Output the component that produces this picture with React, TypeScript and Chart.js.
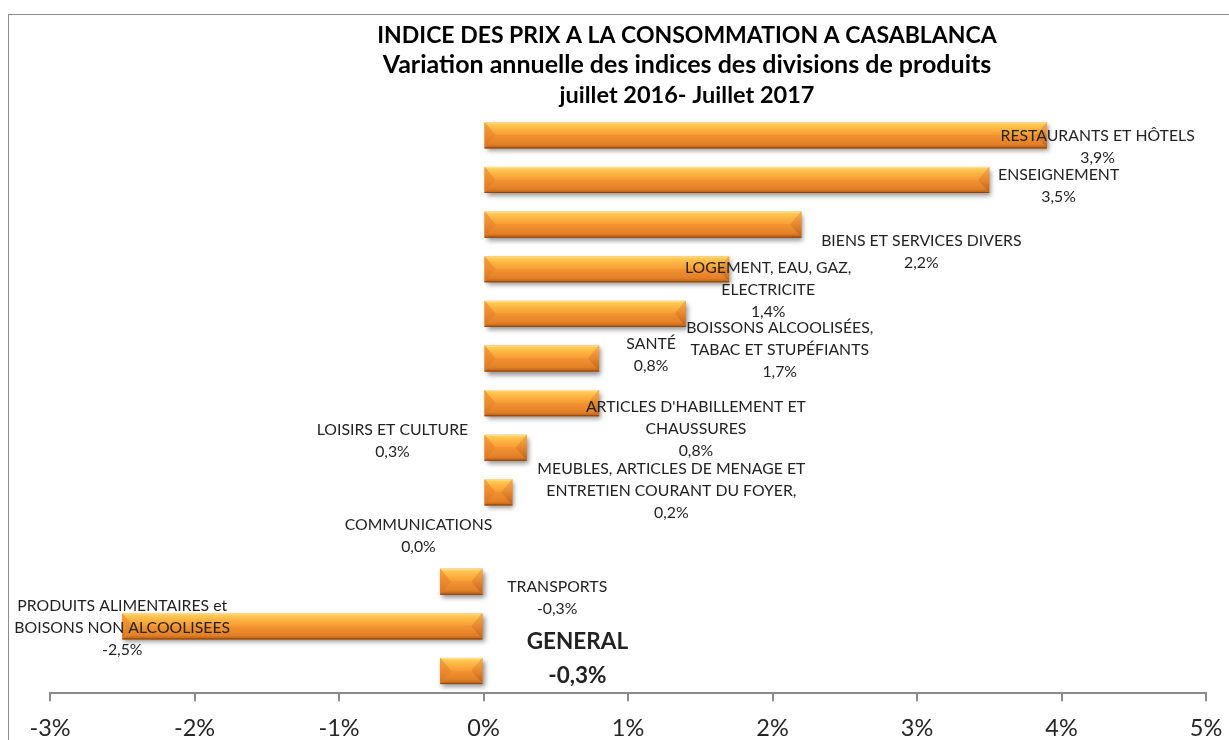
import React, { useEffect, useRef } from "react";
import { Chart, registerables } from "chart.js";

Chart.register(...registerables);

// ---------- data ----------
const CATEGORIES = [
  "RESTAURANTS ET HÔTELS",
  "ENSEIGNEMENT",
  "BIENS ET SERVICES DIVERS",
  "BOISSONS ALCOOLISÉES, TABAC ET STUPÉFIANTS",
  "LOGEMENT, EAU, GAZ, ELECTRICITE",
  "SANTÉ",
  "ARTICLES D'HABILLEMENT ET CHAUSSURES",
  "LOISIRS ET CULTURE",
  "MEUBLES, ARTICLES DE MENAGE ET ENTRETIEN COURANT DU FOYER,",
  "COMMUNICATIONS",
  "TRANSPORTS",
  "PRODUITS ALIMENTAIRES et BOISONS NON ALCOOLISEES",
  "GENERAL",
];

const VALUES = [3.9, 3.5, 2.2, 1.7, 1.4, 0.8, 0.8, 0.3, 0.2, 0.0, -0.3, -2.5, -0.3];

const LABEL_LINES = [
  ["RESTAURANTS ET HÔTELS"],
  ["ENSEIGNEMENT"],
  ["BIENS ET SERVICES DIVERS"],
  ["BOISSONS ALCOOLISÉES,", "TABAC ET STUPÉFIANTS"],
  ["LOGEMENT, EAU, GAZ,", "ELECTRICITE"],
  ["SANTÉ"],
  ["ARTICLES D'HABILLEMENT ET", "CHAUSSURES"],
  ["LOISIRS ET CULTURE"],
  ["MEUBLES, ARTICLES DE MENAGE ET", "ENTRETIEN COURANT DU FOYER,"],
  ["COMMUNICATIONS"],
  ["TRANSPORTS"],
  ["PRODUITS ALIMENTAIRES et", "BOISONS NON ALCOOLISEES"],
  ["GENERAL"],
];

// label anchors in axis units (x: %, y: category index)
const LABEL_X = [4.25, 3.98, 3.03, 2.05, 1.97, 1.16, 1.47, -0.63, 1.3, -0.45, 0.51, -2.5, 0.65];
const LABEL_Y = [0.02, 0.89, 2.37, 4.32, 2.975, 4.68, 6.09, 6.61, 7.48, 8.72, 10.11, 10.55, 11.34];

const X_TICKS = [-3, -2, -1, 0, 1, 2, 3, 4, 5];

const TITLE_LINES = [
  "INDICE DES PRIX A LA CONSOMMATION A CASABLANCA",
  "Variation annuelle des indices des divisions de produits",
  "juillet 2016- Juillet 2017",
];

// ---------- styling ----------
const FONT = "Lato, 'Open Sans', sans-serif";
const fmt = (v: number) => v.toFixed(1).replace(".", ",") + "%";

const bevelPlugin = {
  id: "bevelBars",
  afterDatasetsDraw(chart: any) {
    const ctx = chart.ctx as CanvasRenderingContext2D;
    const meta = chart.getDatasetMeta(0);
    meta.data.forEach((el: any) => {
      const { x, y, base, height } = el.getProps(["x", "y", "base", "height"], true);
      const xa = Math.min(x, base);
      const xb = Math.max(x, base);
      const w = xb - xa;
      if (w < 0.5) return;
      const y0 = y - height / 2;
      const y1 = y + height / 2;
      const ym = y;
      const b = Math.min(11, w / 2);

      ctx.save();
      ctx.shadowColor = "rgba(0,0,0,0.45)";
      ctx.shadowBlur = 5;
      ctx.shadowOffsetX = 2;
      ctx.shadowOffsetY = 3;
      ctx.fillStyle = "#E88A2C";
      ctx.fillRect(xa, y0, w, height);
      ctx.restore();

      ctx.save();
      // top half
      let g = ctx.createLinearGradient(0, y0, 0, ym);
      g.addColorStop(0, "#FFE8A0");
      g.addColorStop(0.15, "#FFCB55");
      g.addColorStop(0.5, "#FDB443");
      g.addColorStop(1, "#F79A33");
      ctx.fillStyle = g;
      ctx.beginPath();
      ctx.moveTo(xa, y0);
      ctx.lineTo(xb, y0);
      ctx.lineTo(xb - b, ym);
      ctx.lineTo(xa + b, ym);
      ctx.closePath();
      ctx.fill();
      // bottom half
      g = ctx.createLinearGradient(0, ym, 0, y1);
      g.addColorStop(0, "#F39332");
      g.addColorStop(0.7, "#E27F26");
      g.addColorStop(1, "#B05A18");
      ctx.fillStyle = g;
      ctx.beginPath();
      ctx.moveTo(xa + b, ym);
      ctx.lineTo(xb - b, ym);
      ctx.lineTo(xb, y1);
      ctx.lineTo(xa, y1);
      ctx.closePath();
      ctx.fill();
      // left facet
      g = ctx.createLinearGradient(0, y0, 0, y1);
      g.addColorStop(0, "#F7A23C");
      g.addColorStop(0.5, "#EC8A2E");
      g.addColorStop(1, "#D27422");
      ctx.fillStyle = g;
      ctx.beginPath();
      ctx.moveTo(xa, y0);
      ctx.lineTo(xa + b, ym);
      ctx.lineTo(xa, y1);
      ctx.closePath();
      ctx.fill();
      // right facet
      g = ctx.createLinearGradient(0, y0, 0, y1);
      g.addColorStop(0, "#F8B050");
      g.addColorStop(0.5, "#E6862E");
      g.addColorStop(1, "#B8611C");
      ctx.fillStyle = g;
      ctx.beginPath();
      ctx.moveTo(xb, y0);
      ctx.lineTo(xb - b, ym);
      ctx.lineTo(xb, y1);
      ctx.closePath();
      ctx.fill();
      // bottom edge
      ctx.strokeStyle = "rgba(130,65,15,0.8)";
      ctx.lineWidth = 1;
      ctx.beginPath();
      ctx.moveTo(xa, y1 - 0.5);
      ctx.lineTo(xb, y1 - 0.5);
      ctx.stroke();
      ctx.restore();
    });
  },
};

const labelsPlugin = {
  id: "valueLabels",
  afterDatasetsDraw(chart: any) {
    const ctx = chart.ctx as CanvasRenderingContext2D;
    const xs = chart.scales.x;
    const ys = chart.scales.y;
    ctx.save();
    ctx.textAlign = "center";
    ctx.textBaseline = "middle";
    ctx.fillStyle = "#222222";
    LABEL_LINES.forEach((lines, i) => {
      const px = xs.getPixelForValue(LABEL_X[i]);
      const py = ys.getPixelForValue(LABEL_Y[i]);
      const isGeneral = i === LABEL_LINES.length - 1;
      const all = [...lines, fmt(VALUES[i])];
      ctx.font = isGeneral ? `bold 22.5px ${FONT}` : `15.8px ${FONT}`;
      const lh = isGeneral ? 34 : 22;
      all.forEach((t, k) => ctx.fillText(t, px, py + k * lh));
    });
    ctx.restore();
  },
};

const TITLE_SIZES = [23, 25, 23.5];
const TITLE_BASELINES = [43, 73, 103];

const framePlugin = {
  id: "frameTitle",
  afterDraw(chart: any) {
    const ctx = chart.ctx as CanvasRenderingContext2D;
    ctx.save();
    ctx.strokeStyle = "#8c8c8c";
    ctx.lineWidth = 1;
    ctx.strokeRect(8.5, 14.5, 1400, 900);
    ctx.fillStyle = "#000000";
    ctx.textAlign = "center";
    ctx.textBaseline = "alphabetic";
    TITLE_LINES.forEach((t, i) => {
      ctx.font = `bold ${TITLE_SIZES[i]}px ${FONT}`;
      ctx.fillText(t, 687, TITLE_BASELINES[i]);
    });
    ctx.restore();
  },
};

export default function App() {
  const ref = useRef<HTMLCanvasElement | null>(null);
  useEffect(() => {
    if (!ref.current) return;
    const chart = new Chart(ref.current, {
      type: "bar",
      data: {
        labels: CATEGORIES,
        datasets: [
          {
            data: VALUES,
            backgroundColor: "rgba(0,0,0,0)",
            borderWidth: 0,
            barPercentage: 0.585,
            categoryPercentage: 1,
          },
        ],
      },
      options: {
        indexAxis: "y",
        animation: false,
        responsive: false,
        layout: { padding: { left: 50, right: 23, top: 113, bottom: -15.5 } },
        plugins: {
          legend: { display: false },
          title: { display: false },
          tooltip: { enabled: false },
        },
        scales: {
          x: {
            type: "linear",
            min: -3,
            max: 5,
            afterBuildTicks: (s: any) => {
              s.ticks = X_TICKS.map((v) => ({ value: v }));
            },
            afterFit: (s: any) => {
              s.paddingLeft = 0;
              s.paddingRight = 0;
            },
            grid: {
              drawOnChartArea: false,
              drawTicks: true,
              tickLength: 8,
              color: "#8a8a8a",
              lineWidth: 2,
            },
            border: { display: true, color: "#8a8a8a", width: 2 },
            ticks: {
              callback: (v: any) => `${v}%`,
              font: { family: FONT, size: 23.5 },
              color: "#262626",
              padding: 13,
              maxRotation: 0,
              autoSkip: false,
            },
          },
          y: { display: false, grid: { display: false } },
        },
      } as any,
      plugins: [bevelPlugin, labelsPlugin, framePlugin],
    });
    return () => chart.destroy();
  }, []);
  return (
    <div style={{ position: "fixed", left: 0, top: 0, width: 1229, height: 740, background: "#fff" }}>
      <canvas ref={ref} width={1229} height={740} style={{ width: 1229, height: 740, display: "block" }} />
    </div>
  );
}
